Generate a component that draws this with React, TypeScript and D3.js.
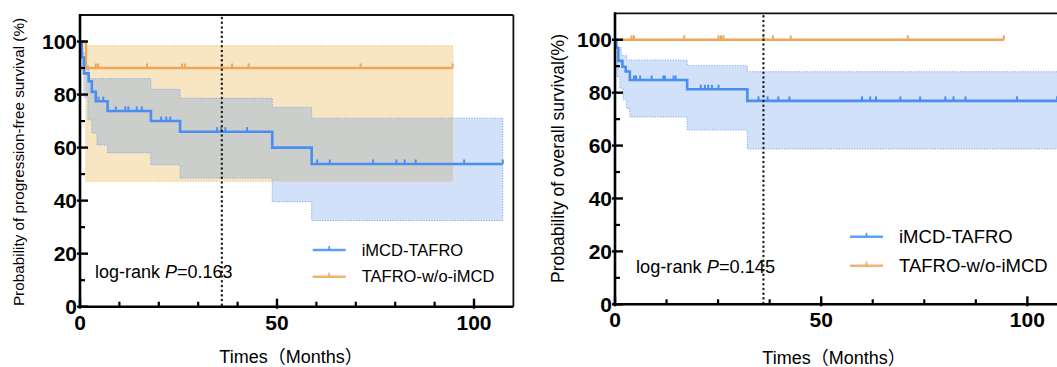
import React from 'react';
import * as d3 from 'd3';

// ---- progression-free survival (left panel) ----
const pfsBlueTimes = [0, 0.5, 1, 2.2, 3, 4, 7, 18, 25.4, 48.8, 58.8];
const pfsBlueSurv = [100, 94, 88, 85, 81, 77.5, 73.8, 70, 66, 60, 53.8];
const pfsBlueEnd = 107.3;
const pfsBlueCensor = [4.7, 5.9, 9.1, 11.5, 12.3, 14.4, 15.7, 20.6, 21.9, 22.9, 34.8, 35.8, 36.9, 42.4, 60.2, 63.4, 74.4, 80.3, 82.4, 85.2, 97.5, 107.3];
const pfsBlueUpT = [0, 0.5, 1, 2.2, 18, 25.4, 48.8, 58.8];
const pfsBlueUpV = [100, 96, 91, 86, 82, 78.6, 75.2, 71.1];
const pfsBlueLoT = [0, 0.5, 1, 2, 3, 4.3, 7, 18, 25.4, 48.8, 58.8];
const pfsBlueLoV = [100, 90, 79, 70.5, 65.5, 61, 58, 53.5, 48.5, 39.6, 32.5];

const pfsOrangeTimes = [0, 1.5];
const pfsOrangeSurv = [100, 90];
const pfsOrangeEnd = 94.6;
const pfsOrangeCensor = [4.0, 4.6, 17, 25.9, 26.7, 36, 38.6, 42.8, 71.2, 94.6];
const pfsOrangeUpT = [0, 1.5];
const pfsOrangeUpV = [100, 98.4];
const pfsOrangeLoT = [0, 1.5];
const pfsOrangeLoV = [100, 47.3];

// ---- overall survival (right panel) ----
const osBlueTimes = [0, 0.3, 0.8, 1.8, 2.6, 3.6, 17.5, 32.1];
const osBlueSurv = [100, 97, 92, 89.8, 88, 84.8, 81.3, 76.9];
const osBlueEnd = 107.3;
const osBlueCensor = [4.6, 5.1, 6.1, 8.9, 11.7, 12.1, 14.2, 14.7, 20.8, 21.8, 22.6, 23.5, 25.1, 34.8, 37, 39.6, 42.3, 59.9, 61.9, 63.3, 69.2, 74, 80.1, 82.1, 85, 97.5, 107.2];
const osBlueUpT = [0, 0.5, 1.5, 2.8, 17.5, 32.1];
const osBlueUpV = [100, 97, 94, 92.3, 90.2, 87.9];
const osBlueLoT = [0, 0.5, 1.2, 2, 2.8, 3.6, 17.5, 32.1];
const osBlueLoV = [100, 86, 81.7, 77.3, 74.1, 70.8, 65.9, 58.7];

const osOrangeTimes = [0];
const osOrangeSurv = [100];
const osOrangeEnd = 94.3;
const osOrangeCensor = [4.0, 4.6, 16.8, 25.1, 25.7, 26.3, 36, 38.3, 42.6, 71, 94.3];

const seriesNames = ['iMCD-TAFRO', 'TAFRO-w/o-iMCD'];
const pValues = ['0.163', '0.145'];
const landmark = 36;
const xTickMajor = [0, 50, 100];
const yTickMajor = [0, 20, 40, 60, 80, 100];
const yTickMinor = [10, 30, 50, 70, 90];
const pfsXMinor = [10, 20, 30, 40, 60, 70, 80, 90];
const osXMinor = [12.5, 25, 37.5, 62.5, 75, 87.5];

const BLUE = '#4a8ef2';
const ORANGE = '#eea658';
const FONT = "'Liberation Sans', Arial, 'Noto Sans CJK SC', sans-serif";

function stepAt(ts: number[], vs: number[], t: number) {
  let v = vs[0];
  for (let i = 0; i < ts.length; i++) if (ts[i] <= t) v = vs[i];
  return v;
}

function curveRows(ts: number[], vs: number[], end: number) {
  const rows = ts.map((t, i) => ({ t, v: vs[i] }));
  rows.push({ t: end, v: vs[vs.length - 1] });
  return rows;
}

function bandRows(upT: number[], upV: number[], loT: number[], loV: number[], end: number) {
  const times = Array.from(new Set([...upT, ...loT])).sort((a, b) => a - b);
  const rows = times.map(t => ({ t, hi: stepAt(upT, upV, t), lo: stepAt(loT, loV, t) }));
  const last = rows[rows.length - 1];
  rows.push({ t: end, hi: last.hi, lo: last.lo });
  return rows;
}

type Band = { upT: number[]; upV: number[]; loT: number[]; loV: number[] };
type Series = { t: number[]; s: number[]; end: number; cens: number[]; color: string; band?: Band; fill?: string; edge?: string };

function Panel(props: any) {
  const { xr, yr, series, legendSeries, xMinor, yTitle, yTitleX, yTitleY, yTitleSize, legX, legY, legGap, legSize,
    pX, pY, pSize, pVal, xTitleX, xTitleY, xLabY, clipW } = props;
  const x = d3.scaleLinear().domain([0, 110]).range(xr);
  const y = d3.scaleLinear().domain([0, 110]).range(yr);
  const line = d3.line<any>().x(d => x(d.t)).y(d => y(d.v)).curve(d3.curveStepAfter);
  const area = d3.area<any>().x(d => x(d.t)).y0(d => y(d.lo)).y1(d => y(d.hi)).curve(d3.curveStepAfter);
  const lineHi = d3.line<any>().x(d => x(d.t)).y(d => y(d.hi)).curve(d3.curveStepAfter);
  const lineLo = d3.line<any>().x(d => x(d.t)).y(d => y(d.lo)).curve(d3.curveStepAfter);
  const x0 = xr[0], x1 = xr[1], y0 = yr[0], y1 = yr[1];

  const bands = series.filter((s: Series) => s.band).map((s: Series) => ({
    s, rows: bandRows(s.band!.upT, s.band!.upV, s.band!.loT, s.band!.loV, s.end),
  }));
  const legs: Series[] = legendSeries || series;

  return (
    <g>
      {bands.map((b: any, i: number) => (
        <path key={'bf' + i} d={area(b.rows) || ''} fill={b.s.fill} stroke="none" />
      ))}
      {bands.map((b: any, i: number) => (
        <g key={'be' + i} fill="none" stroke={b.s.edge} strokeWidth={1} strokeDasharray="1.3,1.3">
          <path d={lineHi(b.rows) || ''} />
          <path d={lineLo(b.rows) || ''} />
          <line x1={x(b.s.end)} x2={x(b.s.end)} y1={y(b.rows[b.rows.length - 1].hi)} y2={y(b.rows[b.rows.length - 1].lo)} />
        </g>
      ))}
      {series.map((s: Series, i: number) => (
        <g key={'s' + i}>
          <path d={line(curveRows(s.t, s.s, s.end)) || ''} fill="none" stroke={s.color} strokeWidth={2.6} />
          {s.cens.map((c, j) => (
            <line key={j} x1={x(c)} x2={x(c)} y1={y(stepAt(s.t, s.s, c))} y2={y(stepAt(s.t, s.s, c)) - 4.5}
              stroke={s.color} strokeWidth={2} />
          ))}
        </g>
      ))}
      <line x1={x(landmark)} x2={x(landmark)} y1={y1 + 3} y2={y0} stroke="#222" strokeWidth={2.4}
        strokeDasharray="0.1,4.6" strokeLinecap="round" />
      {/* frame */}
      <line x1={x0} x2={Math.min(x1, clipW)} y1={y1} y2={y1} stroke="#111" strokeWidth={1.8} />
      {x1 < clipW && <line x1={x1} x2={x1} y1={y1} y2={y0} stroke="#111" strokeWidth={1.8} />}
      <line x1={x0} x2={x0} y1={y1 - 1} y2={y0 + 1.2} stroke="#000" strokeWidth={2.6} />
      <line x1={x0 - 1.2} x2={Math.min(x1, clipW)} y1={y0} y2={y0} stroke="#000" strokeWidth={2.6} />
      {yTickMajor.map(v => (
        <g key={'yt' + v}>
          <line x1={x0 - 3} x2={x0 + 8} y1={y(v)} y2={y(v)} stroke="#000" strokeWidth={2.4} />
          <text x={x0 - 3} y={y(v)} dy="0.36em" textAnchor="end" fontWeight="bold" fontSize={21}
            fontFamily={FONT}>{v}</text>
        </g>
      ))}
      {yTickMinor.map(v => (
        <line key={'ym' + v} x1={x0} x2={x0 + 5} y1={y(v)} y2={y(v)} stroke="#000" strokeWidth={2.2} />
      ))}
      {xTickMajor.map(v => (
        <g key={'xt' + v}>
          <line x1={x(v)} x2={x(v)} y1={y0 + 2} y2={y0 - 8} stroke="#000" strokeWidth={2.4} />
          <text x={x(v)} y={xLabY} textAnchor="middle" fontWeight="bold" fontSize={21}
            fontFamily={FONT}>{v}</text>
        </g>
      ))}
      {xMinor.map((v: number) => (
        <line key={'xm' + v} x1={x(v)} x2={x(v)} y1={y0} y2={y0 - 5} stroke="#000" strokeWidth={2.2} />
      ))}
      <text transform={`translate(${yTitleX},${yTitleY}) rotate(-90)`} textAnchor="middle" dy="0.35em"
        fontSize={yTitleSize} fontFamily={FONT}>{yTitle}</text>
      <text x={xTitleX} y={xTitleY} textAnchor="middle" fontSize={18} fontFamily={FONT}>Times（Months）</text>
      <text x={pX} y={pY} fontSize={pSize} fontFamily={FONT}>
        log-rank <tspan fontStyle="italic">P</tspan>={pVal}
      </text>
      {legs.map((s: Series, i: number) => (
        <g key={'lg' + i} transform={`translate(${legX},${legY + i * legGap})`}>
          <line x1={0} x2={33} y1={0} y2={0} stroke={s.color} strokeWidth={2.4} opacity={0.85} />
          <line x1={16.5} x2={16.5} y1={0} y2={-4} stroke={s.color} strokeWidth={1.8} opacity={0.85} />
          <text x={49} y={0} dy="0.35em" fontSize={legSize} fontFamily={FONT}>{seriesNames[i]}</text>
        </g>
      ))}
    </g>
  );
}

export default function App() {
  const pfsBlue: Series = {
    t: pfsBlueTimes, s: pfsBlueSurv, end: pfsBlueEnd, cens: pfsBlueCensor, color: BLUE,
    band: { upT: pfsBlueUpT, upV: pfsBlueUpV, loT: pfsBlueLoT, loV: pfsBlueLoV },
    fill: 'rgba(66,130,235,0.24)', edge: '#86adee',
  };
  const pfsOrange: Series = {
    t: pfsOrangeTimes, s: pfsOrangeSurv, end: pfsOrangeEnd, cens: pfsOrangeCensor, color: ORANGE,
    band: { upT: pfsOrangeUpT, upV: pfsOrangeUpV, loT: pfsOrangeLoT, loV: pfsOrangeLoV },
    fill: '#f8e6c3', edge: '#f1c47f',
  };
  const osBlue: Series = {
    t: osBlueTimes, s: osBlueSurv, end: osBlueEnd, cens: osBlueCensor, color: BLUE,
    band: { upT: osBlueUpT, upV: osBlueUpV, loT: osBlueLoT, loV: osBlueLoV },
    fill: 'rgba(66,130,235,0.24)', edge: '#86adee',
  };
  const osOrange: Series = { t: osOrangeTimes, s: osOrangeSurv, end: osOrangeEnd, cens: osOrangeCensor, color: ORANGE };

  return (
    <svg width={1057} height={367} style={{ position: 'absolute', left: 0, top: 0, background: '#fff' }}>
      <rect width={1057} height={367} fill="#fff" />
      <Panel xr={[80, 513.4]} yr={[306.7, 15]} series={[pfsOrange, pfsBlue]} legendSeries={[pfsBlue, pfsOrange]}
        xMinor={pfsXMinor}
        yTitle="Probability of progression-free survival (%)" yTitleX={18.5} yTitleY={162} yTitleSize={15.3}
        legX={312.7} legY={250} legGap={26.7} legSize={16.5}
        pX={95} pY={278.3} pSize={18} pVal={pValues[0]} xTitleX={291} xTitleY={362.5} xLabY={330}
        clipW={1057} />
      <Panel xr={[615, 1068.6]} yr={[304.3, 13.3]} series={[osBlue, osOrange]} xMinor={osXMinor}
        yTitle="Probability of overall survival(%)" yTitleX={558} yTitleY={158.5} yTitleSize={17.5}
        legX={850} legY={236.7} legGap={29} legSize={18.5}
        pX={636} pY={272.7} pSize={18.2} pVal={pValues[1]} xTitleX={834} xTitleY={364} xLabY={327}
        clipW={1057} />
    </svg>
  );
}
